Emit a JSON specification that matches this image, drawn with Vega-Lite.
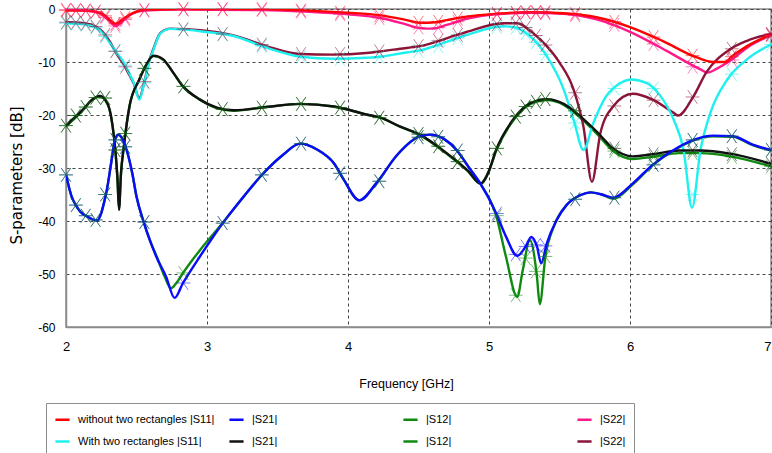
{
"$schema":"https://vega.github.io/schema/vega-lite/v6.json",
"width":705,"height":318,
"autosize":{"type":"none"},
"padding":{"left":66,"top":9,"right":1,"bottom":126},
"background":"white",
"config":{"view":{"stroke":"#8c8c8c","strokeWidth":1.5},
 "font":"'Liberation Sans', Arial, sans-serif"},
"datasets":{
"lines":[
{"f":2.0,"v":-31.3,"s":"g1"},{"f":2.02,"v":-33.5,"s":"g1"},{"f":2.04,"v":-35.4,"s":"g1"},{"f":2.07,"v":-37.0,"s":"g1"},{"f":2.10,"v":-38.2,"s":"g1"},{"f":2.16,"v":-39.3,"s":"g1"},{"f":2.22,"v":-39.9,"s":"g1"},{"f":2.25,"v":-38.5,"s":"g1"},{"f":2.27,"v":-36.5,"s":"g1"},{"f":2.29,"v":-34.1,"s":"g1"},{"f":2.32,"v":-29.1,"s":"g1"},{"f":2.345,"v":-25,"s":"g1"},{"f":2.37,"v":-23.7,"s":"g1"},{"f":2.40,"v":-24.5,"s":"g1"},{"f":2.43,"v":-26.6,"s":"g1"},{"f":2.47,"v":-31,"s":"g1"},{"f":2.50,"v":-35.4,"s":"g1"},{"f":2.55,"v":-40.1,"s":"g1"},{"f":2.60,"v":-44.0,"s":"g1"},{"f":2.64,"v":-46.5,"s":"g1"},{"f":2.70,"v":-50.5,"s":"g1"},{"f":2.745,"v":-52.7,"s":"g1"},{"f":2.78,"v":-51.8,"s":"g1"},{"f":2.83,"v":-49.8,"s":"g1"},{"f":2.95,"v":-45.5,"s":"g1"},{"f":3.12,"v":-40.1,"s":"g1"},{"f":3.26,"v":-35.4,"s":"g1"},{"f":3.40,"v":-31.0,"s":"g1"},{"f":3.54,"v":-27.5,"s":"g1"},{"f":3.66,"v":-25.4,"s":"g1"},{"f":3.78,"v":-26.5,"s":"g1"},{"f":3.9,"v":-29.1,"s":"g1"},{"f":3.97,"v":-32.2,"s":"g1"},{"f":4.08,"v":-36.1,"s":"g1"},{"f":4.2,"v":-32.9,"s":"g1"},{"f":4.35,"v":-27.5,"s":"g1"},{"f":4.51,"v":-24.0,"s":"g1"},{"f":4.58,"v":-23.7,"s":"g1"},{"f":4.68,"v":-24.5,"s":"g1"},{"f":4.77,"v":-26.6,"s":"g1"},{"f":4.86,"v":-30,"s":"g1"},{"f":4.94,"v":-33.0,"s":"g1"},{"f":5.05,"v":-38.9,"s":"g1"},{"f":5.12,"v":-46.7,"s":"g1"},{"f":5.20,"v":-54.3,"s":"g1"},{"f":5.24,"v":-49.2,"s":"g1"},{"f":5.29,"v":-43.6,"s":"g1"},{"f":5.34,"v":-50.5,"s":"g1"},{"f":5.36,"v":-55.7,"s":"g1"},{"f":5.40,"v":-46.7,"s":"g1"},{"f":5.46,"v":-41.0,"s":"g1"},{"f":5.55,"v":-37.0,"s":"g1"},{"f":5.65,"v":-35.1,"s":"g1"},{"f":5.72,"v":-34.6,"s":"g1"},{"f":5.80,"v":-35.0,"s":"g1"},{"f":5.88,"v":-35.8,"s":"g1"},{"f":6.02,"v":-33.1,"s":"g1"},{"f":6.16,"v":-29.5,"s":"g1"},{"f":6.31,"v":-26.7,"s":"g1"},{"f":6.45,"v":-24.8,"s":"g1"},{"f":6.59,"v":-24.0,"s":"g1"},{"f":6.73,"v":-24.1,"s":"g1"},{"f":6.87,"v":-25.7,"s":"g1"},{"f":7.0,"v":-26.7,"s":"g1"},
{"f":2.0,"v":-22.2,"s":"g2"},{"f":2.06,"v":-20.7,"s":"g2"},{"f":2.12,"v":-19.1,"s":"g2"},{"f":2.18,"v":-17.3,"s":"g2"},{"f":2.24,"v":-16.5,"s":"g2"},{"f":2.28,"v":-17.3,"s":"g2"},{"f":2.31,"v":-19.1,"s":"g2"},{"f":2.33,"v":-22,"s":"g2"},{"f":2.35,"v":-26.6,"s":"g2"},{"f":2.365,"v":-32,"s":"g2"},{"f":2.376,"v":-37.5,"s":"g2"},{"f":2.39,"v":-31,"s":"g2"},{"f":2.41,"v":-26.0,"s":"g2"},{"f":2.45,"v":-18.4,"s":"g2"},{"f":2.52,"v":-13.3,"s":"g2"},{"f":2.57,"v":-10.5,"s":"g2"},{"f":2.62,"v":-8.9,"s":"g2"},{"f":2.69,"v":-9.6,"s":"g2"},{"f":2.76,"v":-12,"s":"g2"},{"f":2.83,"v":-14.6,"s":"g2"},{"f":2.95,"v":-17.1,"s":"g2"},{"f":3.07,"v":-18.7,"s":"g2"},{"f":3.19,"v":-19.2,"s":"g2"},{"f":3.42,"v":-18.5,"s":"g2"},{"f":3.66,"v":-17.9,"s":"g2"},{"f":3.9,"v":-18.4,"s":"g2"},{"f":4.13,"v":-19.9,"s":"g2"},{"f":4.23,"v":-20.5,"s":"g2"},{"f":4.37,"v":-22.2,"s":"g2"},{"f":4.51,"v":-23.8,"s":"g2"},{"f":4.70,"v":-27.3,"s":"g2"},{"f":4.85,"v":-30.6,"s":"g2"},{"f":4.94,"v":-33.0,"s":"g2"},{"f":5.00,"v":-30.6,"s":"g2"},{"f":5.05,"v":-26.8,"s":"g2"},{"f":5.17,"v":-21.1,"s":"g2"},{"f":5.29,"v":-18.0,"s":"g2"},{"f":5.41,"v":-17.2,"s":"g2"},{"f":5.53,"v":-18.1,"s":"g2"},{"f":5.65,"v":-20.6,"s":"g2"},{"f":5.77,"v":-23.7,"s":"g2"},{"f":5.88,"v":-26.8,"s":"g2"},{"f":6.02,"v":-28.3,"s":"g2"},{"f":6.16,"v":-27.9,"s":"g2"},{"f":6.35,"v":-27.2,"s":"g2"},{"f":6.5,"v":-27.2,"s":"g2"},{"f":6.71,"v":-27.8,"s":"g2"},{"f":7.0,"v":-29.7,"s":"g2"},
{"f":2.0,"v":-0.1,"s":"p"},{"f":2.15,"v":-0.3,"s":"p"},{"f":2.25,"v":-1.0,"s":"p"},{"f":2.31,"v":-2.3,"s":"p"},{"f":2.35,"v":-3.2,"s":"p"},{"f":2.40,"v":-2.3,"s":"p"},{"f":2.47,"v":-0.9,"s":"p"},{"f":2.55,"v":-0.3,"s":"p"},{"f":2.8,"v":-0.1,"s":"p"},{"f":3.4,"v":-0.2,"s":"p"},{"f":3.7,"v":-0.5,"s":"p"},{"f":4.0,"v":-1.0,"s":"p"},{"f":4.23,"v":-1.7,"s":"p"},{"f":4.4,"v":-2.8,"s":"p"},{"f":4.51,"v":-3.6,"s":"p"},{"f":4.6,"v":-3.7,"s":"p"},{"f":4.70,"v":-3.0,"s":"p"},{"f":4.85,"v":-1.8,"s":"p"},{"f":5.05,"v":-1.0,"s":"p"},{"f":5.29,"v":-0.7,"s":"p"},{"f":5.53,"v":-0.9,"s":"p"},{"f":5.77,"v":-2.0,"s":"p"},{"f":6.0,"v":-4.3,"s":"p"},{"f":6.26,"v":-7.9,"s":"p"},{"f":6.5,"v":-11.4,"s":"p"},{"f":6.55,"v":-12.0,"s":"p"},{"f":6.62,"v":-11.2,"s":"p"},{"f":6.73,"v":-9.4,"s":"p"},{"f":6.83,"v":-7.3,"s":"p"},{"f":7.0,"v":-5.0,"s":"p"},
{"f":2.0,"v":-2.5,"s":"m"},{"f":2.1,"v":-2.6,"s":"m"},{"f":2.2,"v":-3.2,"s":"m"},{"f":2.26,"v":-4.3,"s":"m"},{"f":2.31,"v":-6.1,"s":"m"},{"f":2.36,"v":-8.5,"s":"m"},{"f":2.41,"v":-10.5,"s":"m"},{"f":2.45,"v":-12.5,"s":"m"},{"f":2.48,"v":-14.0,"s":"m"},{"f":2.52,"v":-16.8,"s":"m"},{"f":2.555,"v":-13.8,"s":"m"},{"f":2.59,"v":-9.8,"s":"m"},{"f":2.62,"v":-7.5,"s":"m"},{"f":2.67,"v":-4.5,"s":"m"},{"f":2.74,"v":-3.7,"s":"m"},{"f":2.85,"v":-3.8,"s":"m"},{"f":2.95,"v":-4.0,"s":"m"},{"f":3.19,"v":-5.0,"s":"m"},{"f":3.42,"v":-7.0,"s":"m"},{"f":3.66,"v":-8.5,"s":"m"},{"f":3.9,"v":-8.6,"s":"m"},{"f":4.13,"v":-8.3,"s":"m"},{"f":4.23,"v":-8.0,"s":"m"},{"f":4.37,"v":-7.5,"s":"m"},{"f":4.51,"v":-7.0,"s":"m"},{"f":4.82,"v":-4.5,"s":"m"},{"f":5.10,"v":-2.7,"s":"m"},{"f":5.20,"v":-2.7,"s":"m"},{"f":5.31,"v":-4.5,"s":"m"},{"f":5.41,"v":-7.0,"s":"m"},{"f":5.50,"v":-10.1,"s":"m"},{"f":5.60,"v":-15.2,"s":"m"},{"f":5.67,"v":-22.2,"s":"m"},{"f":5.73,"v":-32.6,"s":"m"},{"f":5.79,"v":-23.4,"s":"m"},{"f":5.88,"v":-18.4,"s":"m"},{"f":6.02,"v":-16.0,"s":"m"},{"f":6.16,"v":-17.1,"s":"m"},{"f":6.31,"v":-19.6,"s":"m"},{"f":6.34,"v":-20.1,"s":"m"},{"f":6.45,"v":-16.5,"s":"m"},{"f":6.54,"v":-12.0,"s":"m"},{"f":6.71,"v":-7.6,"s":"m"},{"f":6.83,"v":-6.0,"s":"m"},{"f":7.0,"v":-4.7,"s":"m"},
{"f":2.0,"v":-0.3,"s":"r"},{"f":2.15,"v":-0.3,"s":"r"},{"f":2.25,"v":-0.8,"s":"r"},{"f":2.31,"v":-2.0,"s":"r"},{"f":2.35,"v":-2.8,"s":"r"},{"f":2.40,"v":-2.0,"s":"r"},{"f":2.47,"v":-0.8,"s":"r"},{"f":2.55,"v":-0.2,"s":"r"},{"f":2.8,"v":0,"s":"r"},{"f":3.0,"v":0,"s":"r"},{"f":3.4,"v":0,"s":"r"},{"f":3.7,"v":-0.3,"s":"r"},{"f":4.0,"v":-0.7,"s":"r"},{"f":4.23,"v":-1.2,"s":"r"},{"f":4.4,"v":-2.0,"s":"r"},{"f":4.51,"v":-2.6,"s":"r"},{"f":4.62,"v":-2.5,"s":"r"},{"f":4.70,"v":-2.1,"s":"r"},{"f":4.85,"v":-1.4,"s":"r"},{"f":5.05,"v":-0.9,"s":"r"},{"f":5.29,"v":-0.6,"s":"r"},{"f":5.53,"v":-0.8,"s":"r"},{"f":5.77,"v":-1.6,"s":"r"},{"f":6.0,"v":-3.4,"s":"r"},{"f":6.23,"v":-6.0,"s":"r"},{"f":6.47,"v":-9.1,"s":"r"},{"f":6.59,"v":-10.0,"s":"r"},{"f":6.67,"v":-10.0,"s":"r"},{"f":6.73,"v":-8.8,"s":"r"},{"f":6.83,"v":-7.0,"s":"r"},{"f":7.0,"v":-4.8,"s":"r"},
{"f":2.0,"v":-2.7,"s":"c"},{"f":2.1,"v":-2.8,"s":"c"},{"f":2.2,"v":-3.4,"s":"c"},{"f":2.26,"v":-4.5,"s":"c"},{"f":2.31,"v":-6.4,"s":"c"},{"f":2.36,"v":-8.3,"s":"c"},{"f":2.41,"v":-10.1,"s":"c"},{"f":2.45,"v":-12.2,"s":"c"},{"f":2.48,"v":-13.9,"s":"c"},{"f":2.52,"v":-17.1,"s":"c"},{"f":2.555,"v":-14.0,"s":"c"},{"f":2.59,"v":-10.0,"s":"c"},{"f":2.62,"v":-7.7,"s":"c"},{"f":2.67,"v":-4.6,"s":"c"},{"f":2.74,"v":-3.75,"s":"c"},{"f":2.85,"v":-3.9,"s":"c"},{"f":2.95,"v":-4.2,"s":"c"},{"f":3.19,"v":-5.1,"s":"c"},{"f":3.42,"v":-7.3,"s":"c"},{"f":3.66,"v":-9.0,"s":"c"},{"f":3.9,"v":-9.4,"s":"c"},{"f":4.13,"v":-9.2,"s":"c"},{"f":4.23,"v":-9.0,"s":"c"},{"f":4.37,"v":-8.4,"s":"c"},{"f":4.51,"v":-7.8,"s":"c"},{"f":4.82,"v":-5.1,"s":"c"},{"f":5.10,"v":-3.25,"s":"c"},{"f":5.17,"v":-3.4,"s":"c"},{"f":5.29,"v":-5.1,"s":"c"},{"f":5.41,"v":-8.9,"s":"c"},{"f":5.53,"v":-15.2,"s":"c"},{"f":5.60,"v":-20.9,"s":"c"},{"f":5.67,"v":-26.6,"s":"c"},{"f":5.74,"v":-21.5,"s":"c"},{"f":5.83,"v":-16.5,"s":"c"},{"f":5.93,"v":-14.0,"s":"c"},{"f":6.01,"v":-13.3,"s":"c"},{"f":6.12,"v":-14.0,"s":"c"},{"f":6.21,"v":-16.2,"s":"c"},{"f":6.31,"v":-20.9,"s":"c"},{"f":6.38,"v":-26.6,"s":"c"},{"f":6.44,"v":-37.5,"s":"c"},{"f":6.50,"v":-26.6,"s":"c"},{"f":6.57,"v":-19.6,"s":"c"},{"f":6.69,"v":-13.3,"s":"c"},{"f":6.83,"v":-9.5,"s":"c"},{"f":7.0,"v":-6.7,"s":"c"},
{"f":2.0,"v":-22.0,"s":"k"},{"f":2.06,"v":-20.5,"s":"k"},{"f":2.12,"v":-19.0,"s":"k"},{"f":2.18,"v":-17.2,"s":"k"},{"f":2.24,"v":-16.4,"s":"k"},{"f":2.28,"v":-17.2,"s":"k"},{"f":2.31,"v":-19.0,"s":"k"},{"f":2.33,"v":-22,"s":"k"},{"f":2.35,"v":-26.6,"s":"k"},{"f":2.365,"v":-32,"s":"k"},{"f":2.376,"v":-37.9,"s":"k"},{"f":2.39,"v":-31,"s":"k"},{"f":2.41,"v":-26.0,"s":"k"},{"f":2.45,"v":-18.4,"s":"k"},{"f":2.52,"v":-13.3,"s":"k"},{"f":2.57,"v":-10.5,"s":"k"},{"f":2.62,"v":-8.8,"s":"k"},{"f":2.69,"v":-9.5,"s":"k"},{"f":2.76,"v":-12,"s":"k"},{"f":2.83,"v":-14.6,"s":"k"},{"f":2.95,"v":-17.1,"s":"k"},{"f":3.07,"v":-18.6,"s":"k"},{"f":3.19,"v":-19.1,"s":"k"},{"f":3.42,"v":-18.5,"s":"k"},{"f":3.66,"v":-17.9,"s":"k"},{"f":3.9,"v":-18.4,"s":"k"},{"f":4.13,"v":-19.9,"s":"k"},{"f":4.23,"v":-20.5,"s":"k"},{"f":4.37,"v":-22.2,"s":"k"},{"f":4.51,"v":-23.7,"s":"k"},{"f":4.70,"v":-27.2,"s":"k"},{"f":4.85,"v":-30.5,"s":"k"},{"f":4.94,"v":-32.9,"s":"k"},{"f":5.00,"v":-30.5,"s":"k"},{"f":5.05,"v":-26.6,"s":"k"},{"f":5.17,"v":-20.9,"s":"k"},{"f":5.29,"v":-17.8,"s":"k"},{"f":5.41,"v":-17.0,"s":"k"},{"f":5.53,"v":-17.9,"s":"k"},{"f":5.65,"v":-20.3,"s":"k"},{"f":5.77,"v":-23.3,"s":"k"},{"f":5.88,"v":-26.3,"s":"k"},{"f":6.02,"v":-27.8,"s":"k"},{"f":6.16,"v":-27.4,"s":"k"},{"f":6.35,"v":-26.7,"s":"k"},{"f":6.5,"v":-26.7,"s":"k"},{"f":6.71,"v":-27.3,"s":"k"},{"f":7.0,"v":-29.2,"s":"k"},
{"f":2.0,"v":-31.3,"s":"b"},{"f":2.02,"v":-33.5,"s":"b"},{"f":2.04,"v":-35.4,"s":"b"},{"f":2.07,"v":-37.0,"s":"b"},{"f":2.10,"v":-38.2,"s":"b"},{"f":2.16,"v":-39.3,"s":"b"},{"f":2.22,"v":-39.9,"s":"b"},{"f":2.25,"v":-38.5,"s":"b"},{"f":2.27,"v":-36.5,"s":"b"},{"f":2.29,"v":-34.1,"s":"b"},{"f":2.32,"v":-29.1,"s":"b"},{"f":2.345,"v":-25,"s":"b"},{"f":2.37,"v":-23.7,"s":"b"},{"f":2.40,"v":-24.5,"s":"b"},{"f":2.43,"v":-26.6,"s":"b"},{"f":2.47,"v":-31,"s":"b"},{"f":2.50,"v":-35.4,"s":"b"},{"f":2.55,"v":-40.1,"s":"b"},{"f":2.60,"v":-44.0,"s":"b"},{"f":2.64,"v":-46.7,"s":"b"},{"f":2.71,"v":-50.5,"s":"b"},{"f":2.77,"v":-54.5,"s":"b"},{"f":2.83,"v":-51.7,"s":"b"},{"f":2.95,"v":-46.7,"s":"b"},{"f":3.12,"v":-40.1,"s":"b"},{"f":3.26,"v":-35.4,"s":"b"},{"f":3.40,"v":-31.0,"s":"b"},{"f":3.54,"v":-27.5,"s":"b"},{"f":3.66,"v":-25.4,"s":"b"},{"f":3.78,"v":-26.5,"s":"b"},{"f":3.9,"v":-29.1,"s":"b"},{"f":3.97,"v":-32.2,"s":"b"},{"f":4.08,"v":-36.1,"s":"b"},{"f":4.2,"v":-32.9,"s":"b"},{"f":4.35,"v":-27.5,"s":"b"},{"f":4.51,"v":-24.0,"s":"b"},{"f":4.58,"v":-23.7,"s":"b"},{"f":4.68,"v":-24.5,"s":"b"},{"f":4.77,"v":-26.6,"s":"b"},{"f":4.86,"v":-30,"s":"b"},{"f":4.94,"v":-33.0,"s":"b"},{"f":5.05,"v":-38.5,"s":"b"},{"f":5.12,"v":-42.9,"s":"b"},{"f":5.20,"v":-46.6,"s":"b"},{"f":5.26,"v":-44.8,"s":"b"},{"f":5.30,"v":-43.0,"s":"b"},{"f":5.34,"v":-44.8,"s":"b"},{"f":5.37,"v":-48.0,"s":"b"},{"f":5.41,"v":-44.2,"s":"b"},{"f":5.48,"v":-39.8,"s":"b"},{"f":5.55,"v":-37.0,"s":"b"},{"f":5.65,"v":-35.1,"s":"b"},{"f":5.72,"v":-34.6,"s":"b"},{"f":5.80,"v":-35.0,"s":"b"},{"f":5.88,"v":-35.6,"s":"b"},{"f":6.02,"v":-32.9,"s":"b"},{"f":6.16,"v":-29.4,"s":"b"},{"f":6.31,"v":-26.6,"s":"b"},{"f":6.45,"v":-24.7,"s":"b"},{"f":6.59,"v":-23.9,"s":"b"},{"f":6.73,"v":-24.0,"s":"b"},{"f":6.87,"v":-25.6,"s":"b"},{"f":7.0,"v":-26.6,"s":"b"}
],
"marks":[
{"f":2.0,"v":-0.3,"s":"r"},{"f":2.07,"v":-0.3,"s":"r"},{"f":2.14,"v":-0.3,"s":"r"},{"f":2.21,"v":-0.5,"s":"r"},{"f":2.278,"v":-1.3,"s":"r"},{"f":2.35,"v":-2.8,"s":"r"},{"f":2.42,"v":-1.7,"s":"r"},{"f":2.556,"v":-0.2,"s":"r"},{"f":2.833,"v":0,"s":"r"},{"f":3.111,"v":0,"s":"r"},{"f":3.389,"v":0,"s":"r"},{"f":3.667,"v":-0.3,"s":"r"},{"f":3.944,"v":-0.7,"s":"r"},{"f":4.222,"v":-1.2,"s":"r"},{"f":4.5,"v":-2.6,"s":"r"},{"f":4.64,"v":-2.4,"s":"r"},{"f":4.778,"v":-1.8,"s":"r"},{"f":5.056,"v":-0.9,"s":"r"},{"f":5.19,"v":-0.7,"s":"r"},{"f":5.26,"v":-0.6,"s":"r"},{"f":5.333,"v":-0.6,"s":"r"},{"f":5.40,"v":-0.6,"s":"r"},{"f":5.611,"v":-0.9,"s":"r"},{"f":5.889,"v":-2.4,"s":"r"},{"f":6.167,"v":-5.3,"s":"r"},{"f":6.444,"v":-8.8,"s":"r"},{"f":6.722,"v":-9.0,"s":"r"},{"f":7.0,"v":-4.8,"s":"r"},
{"f":2.0,"v":-0.1,"s":"p"},{"f":2.07,"v":-0.2,"s":"p"},{"f":2.14,"v":-0.3,"s":"p"},{"f":2.21,"v":-0.6,"s":"p"},{"f":2.278,"v":-1.6,"s":"p"},{"f":2.35,"v":-3.2,"s":"p"},{"f":2.42,"v":-2.0,"s":"p"},{"f":2.556,"v":-0.3,"s":"p"},{"f":2.833,"v":-0.1,"s":"p"},{"f":3.111,"v":-0.1,"s":"p"},{"f":3.389,"v":-0.2,"s":"p"},{"f":3.667,"v":-0.5,"s":"p"},{"f":3.944,"v":-1.0,"s":"p"},{"f":4.222,"v":-1.7,"s":"p"},{"f":4.5,"v":-3.5,"s":"p"},{"f":4.64,"v":-3.5,"s":"p"},{"f":4.778,"v":-2.4,"s":"p"},{"f":5.056,"v":-1.0,"s":"p"},{"f":5.19,"v":-0.8,"s":"p"},{"f":5.26,"v":-0.7,"s":"p"},{"f":5.333,"v":-0.7,"s":"p"},{"f":5.40,"v":-0.8,"s":"p"},{"f":5.611,"v":-1.2,"s":"p"},{"f":5.889,"v":-3.0,"s":"p"},{"f":6.167,"v":-6.6,"s":"p"},{"f":6.444,"v":-10.9,"s":"p"},{"f":6.722,"v":-9.6,"s":"p"},{"f":7.0,"v":-5.0,"s":"p"},
{"f":2.0,"v":-2.7,"s":"c"},{"f":2.07,"v":-2.8,"s":"c"},{"f":2.14,"v":-3.0,"s":"c"},{"f":2.21,"v":-3.5,"s":"c"},{"f":2.278,"v":-5.2,"s":"c"},{"f":2.35,"v":-7.9,"s":"c"},{"f":2.42,"v":-10.6,"s":"c"},{"f":2.556,"v":-13.9,"s":"c"},{"f":2.833,"v":-3.9,"s":"c"},{"f":3.111,"v":-4.8,"s":"c"},{"f":3.389,"v":-7.0,"s":"c"},{"f":3.667,"v":-9.0,"s":"c"},{"f":3.944,"v":-9.4,"s":"c"},{"f":4.222,"v":-9.0,"s":"c"},{"f":4.5,"v":-7.9,"s":"c"},{"f":4.64,"v":-7.0,"s":"c"},{"f":4.778,"v":-5.5,"s":"c"},{"f":5.056,"v":-3.4,"s":"c"},{"f":5.19,"v":-3.5,"s":"c"},{"f":5.26,"v":-4.6,"s":"c"},{"f":5.333,"v":-6.3,"s":"c"},{"f":5.40,"v":-8.6,"s":"c"},{"f":5.611,"v":-21.5,"s":"c"},{"f":5.889,"v":-15.0,"s":"c"},{"f":6.167,"v":-15.0,"s":"c"},{"f":6.444,"v":-35.0,"s":"c"},{"f":6.722,"v":-12.3,"s":"c"},{"f":7.0,"v":-6.7,"s":"c"},
{"f":2.0,"v":-2.5,"s":"m"},{"f":2.07,"v":-2.6,"s":"m"},{"f":2.14,"v":-2.8,"s":"m"},{"f":2.21,"v":-3.3,"s":"m"},{"f":2.278,"v":-4.9,"s":"m"},{"f":2.35,"v":-8.0,"s":"m"},{"f":2.42,"v":-10.9,"s":"m"},{"f":2.556,"v":-13.7,"s":"m"},{"f":2.833,"v":-3.8,"s":"m"},{"f":3.111,"v":-4.7,"s":"m"},{"f":3.389,"v":-6.7,"s":"m"},{"f":3.667,"v":-8.5,"s":"m"},{"f":3.944,"v":-8.5,"s":"m"},{"f":4.222,"v":-8.0,"s":"m"},{"f":4.5,"v":-7.0,"s":"m"},{"f":4.64,"v":-6.0,"s":"m"},{"f":4.778,"v":-4.9,"s":"m"},{"f":5.056,"v":-2.9,"s":"m"},{"f":5.19,"v":-2.7,"s":"m"},{"f":5.26,"v":-3.5,"s":"m"},{"f":5.333,"v":-5.0,"s":"m"},{"f":5.40,"v":-6.8,"s":"m"},{"f":5.611,"v":-15.8,"s":"m"},{"f":5.889,"v":-18.3,"s":"m"},{"f":6.167,"v":-17.2,"s":"m"},{"f":6.444,"v":-16.6,"s":"m"},{"f":6.722,"v":-7.5,"s":"m"},{"f":7.0,"v":-4.7,"s":"m"},
{"f":2.0,"v":-22.0,"s":"k"},{"f":2.07,"v":-20.1,"s":"k"},{"f":2.14,"v":-18.5,"s":"k"},{"f":2.21,"v":-16.7,"s":"k"},{"f":2.278,"v":-16.8,"s":"k"},{"f":2.35,"v":-26.6,"s":"k"},{"f":2.42,"v":-23.5,"s":"k"},{"f":2.556,"v":-11.2,"s":"k"},{"f":2.833,"v":-14.6,"s":"k"},{"f":3.111,"v":-18.9,"s":"k"},{"f":3.389,"v":-18.6,"s":"k"},{"f":3.667,"v":-17.9,"s":"k"},{"f":3.944,"v":-18.6,"s":"k"},{"f":4.222,"v":-20.5,"s":"k"},{"f":4.5,"v":-23.6,"s":"k"},{"f":4.64,"v":-25.9,"s":"k"},{"f":4.778,"v":-28.8,"s":"k"},{"f":5.056,"v":-26.3,"s":"k"},{"f":5.19,"v":-20.3,"s":"k"},{"f":5.26,"v":-18.4,"s":"k"},{"f":5.333,"v":-17.5,"s":"k"},{"f":5.40,"v":-17.0,"s":"k"},{"f":5.611,"v":-19.2,"s":"k"},{"f":5.889,"v":-26.3,"s":"k"},{"f":6.167,"v":-27.4,"s":"k"},{"f":6.444,"v":-26.7,"s":"k"},{"f":6.722,"v":-27.4,"s":"k"},{"f":7.0,"v":-29.2,"s":"k"},
{"f":2.0,"v":-22.0,"s":"g2"},{"f":2.07,"v":-20.1,"s":"g2"},{"f":2.14,"v":-18.5,"s":"g2"},{"f":2.21,"v":-16.7,"s":"g2"},{"f":2.278,"v":-16.8,"s":"g2"},{"f":2.35,"v":-26.6,"s":"g2"},{"f":2.42,"v":-23.5,"s":"g2"},{"f":2.556,"v":-11.2,"s":"g2"},{"f":2.833,"v":-14.6,"s":"g2"},{"f":3.111,"v":-18.9,"s":"g2"},{"f":3.389,"v":-18.6,"s":"g2"},{"f":3.667,"v":-17.9,"s":"g2"},{"f":3.944,"v":-18.6,"s":"g2"},{"f":4.222,"v":-20.5,"s":"g2"},{"f":4.5,"v":-23.6,"s":"g2"},{"f":4.64,"v":-25.9,"s":"g2"},{"f":4.778,"v":-28.8,"s":"g2"},{"f":5.056,"v":-26.3,"s":"g2"},{"f":5.19,"v":-20.3,"s":"g2"},{"f":5.26,"v":-18.4,"s":"g2"},{"f":5.333,"v":-17.5,"s":"g2"},{"f":5.40,"v":-17.0,"s":"g2"},{"f":5.611,"v":-19.2,"s":"g2"},{"f":5.889,"v":-26.8,"s":"g2"},{"f":6.167,"v":-27.9,"s":"g2"},{"f":6.444,"v":-27.2,"s":"g2"},{"f":6.722,"v":-27.9,"s":"g2"},{"f":7.0,"v":-29.7,"s":"g2"},
{"f":2.0,"v":-31.3,"s":"b"},{"f":2.07,"v":-37.0,"s":"b"},{"f":2.14,"v":-39.0,"s":"b"},{"f":2.21,"v":-39.8,"s":"b"},{"f":2.278,"v":-35.0,"s":"b"},{"f":2.35,"v":-24.7,"s":"b"},{"f":2.42,"v":-26.0,"s":"b"},{"f":2.556,"v":-40.2,"s":"b"},{"f":2.833,"v":-51.7,"s":"b"},{"f":3.111,"v":-40.4,"s":"b"},{"f":3.389,"v":-31.3,"s":"b"},{"f":3.667,"v":-25.4,"s":"b"},{"f":3.944,"v":-31.0,"s":"b"},{"f":4.222,"v":-32.5,"s":"b"},{"f":4.5,"v":-24.2,"s":"b"},{"f":4.64,"v":-24.1,"s":"b"},{"f":4.778,"v":-26.7,"s":"b"},{"f":5.056,"v":-38.6,"s":"b"},{"f":5.19,"v":-46.3,"s":"b"},{"f":5.26,"v":-44.8,"s":"b"},{"f":5.333,"v":-44.5,"s":"b"},{"f":5.40,"v":-44.7,"s":"b"},{"f":5.611,"v":-35.9,"s":"b"},{"f":5.889,"v":-35.6,"s":"b"},{"f":6.167,"v":-29.4,"s":"b"},{"f":6.444,"v":-24.7,"s":"b"},{"f":6.722,"v":-24.0,"s":"b"},{"f":7.0,"v":-26.6,"s":"b"},
{"f":2.0,"v":-31.3,"s":"g1"},{"f":2.07,"v":-37.0,"s":"g1"},{"f":2.14,"v":-39.0,"s":"g1"},{"f":2.21,"v":-39.8,"s":"g1"},{"f":2.278,"v":-35.0,"s":"g1"},{"f":2.35,"v":-24.7,"s":"g1"},{"f":2.42,"v":-26.0,"s":"g1"},{"f":2.556,"v":-40.2,"s":"g1"},{"f":2.833,"v":-49.8,"s":"g1"},{"f":3.111,"v":-40.4,"s":"g1"},{"f":3.389,"v":-31.3,"s":"g1"},{"f":3.667,"v":-25.4,"s":"g1"},{"f":3.944,"v":-31.0,"s":"g1"},{"f":4.222,"v":-32.5,"s":"g1"},{"f":4.5,"v":-24.2,"s":"g1"},{"f":4.64,"v":-24.1,"s":"g1"},{"f":4.778,"v":-26.7,"s":"g1"},{"f":5.056,"v":-39.0,"s":"g1"},{"f":5.19,"v":-54.0,"s":"g1"},{"f":5.26,"v":-47.0,"s":"g1"},{"f":5.333,"v":-49.5,"s":"g1"},{"f":5.40,"v":-46.7,"s":"g1"},{"f":5.611,"v":-35.9,"s":"g1"},{"f":5.889,"v":-35.6,"s":"g1"},{"f":6.167,"v":-29.4,"s":"g1"},{"f":6.444,"v":-24.7,"s":"g1"},{"f":6.722,"v":-24.0,"s":"g1"},{"f":7.0,"v":-26.6,"s":"g1"}
]},
"resolve":{"legend":{"color":"independent"}},
"layer":[
{"data":{"name":"lines"},
 "mark":{"type":"line","interpolate":"monotone","strokeWidth":2.4,"clip":true},
 "encoding":{
  "x":{"field":"f","type":"quantitative","scale":{"domain":[2,7],"nice":false,"zero":false},
   "axis":{"values":[2,3,4,5,6,7],"format":"d","title":"Frequency [GHz]","grid":true,"gridDash":[3,3],"gridColor":"#444","gridWidth":1,"ticks":false,
    "domainColor":"#8c8c8c","domainWidth":1.5,"labelFontSize":13,"labelColor":"#000","labelPadding":13,"labelFlush":false,
    "labelAlign":{"expr":"datum.value == 7 ? 'right' : 'center'"},
    "titleFontSize":12.5,"titleFontWeight":"normal","titleColor":"#000","titleX":340,"titleY":56,"titleBaseline":"middle"}},
  "y":{"field":"v","type":"quantitative","scale":{"domain":[-60,0],"nice":false,"zero":false},
   "axis":{"values":[0,-10,-20,-30,-40,-50,-60],"labelExpr":"'' + datum.value","title":"S-parameters [dB]","grid":true,"gridDash":[3,3],"gridColor":"#444","gridWidth":1,"ticks":false,
    "domainColor":"#8c8c8c","domainWidth":1.5,"labelFontSize":12,"labelColor":"#000","labelPadding":11,"labelFlush":false,
    "titleFont":"DejaVu Sans","titleFontSize":15,"titleFontWeight":"normal","titleColor":"#000","titleX":-50,"titleY":166,"titleAngle":270,"titleBaseline":"middle","titleAlign":"center"}},
  "color":{"field":"s","type":"nominal",
   "scale":{"domain":["r","c","b","k","g1","g2","p","m"],"range":["#ff0000","#1ef0f0","#0a0aff","#111111","#0f8a0f","#0f8a0f","#ff1a8c","#8a1538"]},
   "legend":{"orient":"none","legendX":-20,"legendY":394,"columns":4,"gridAlign":"all","columnPadding":9,"rowPadding":8,"padding":8,
    "title":null,"strokeColor":"#8c8c8c","fillColor":"#ffffff","symbolType":"stroke","symbolStrokeWidth":2.5,"symbolSize":200,
    "labelFontSize":11,"labelColor":"#000","labelOffset":7,"labelLimit":300,
    "labelExpr":"{'r':'without two rectangles |S11|','b':'|S21|','g1':'|S12|','p':'|S22|','c':'With two rectangles |S11|','k':'|S21|','g2':'|S12|','m':'|S22|'}[datum.value]"}}
 }},
{"data":{"name":"marks"},
 "mark":{"type":"point","shape":"M-0.7,-1L0.7,1M-0.7,1L0.7,-1M-1,0L1,0","filled":false,"size":190,"strokeWidth":1,"opacity":0.55},
 "encoding":{
  "x":{"field":"f","type":"quantitative"},
  "y":{"field":"v","type":"quantitative"},
  "color":{"field":"s","type":"nominal","legend":null}
 }}
]
}
